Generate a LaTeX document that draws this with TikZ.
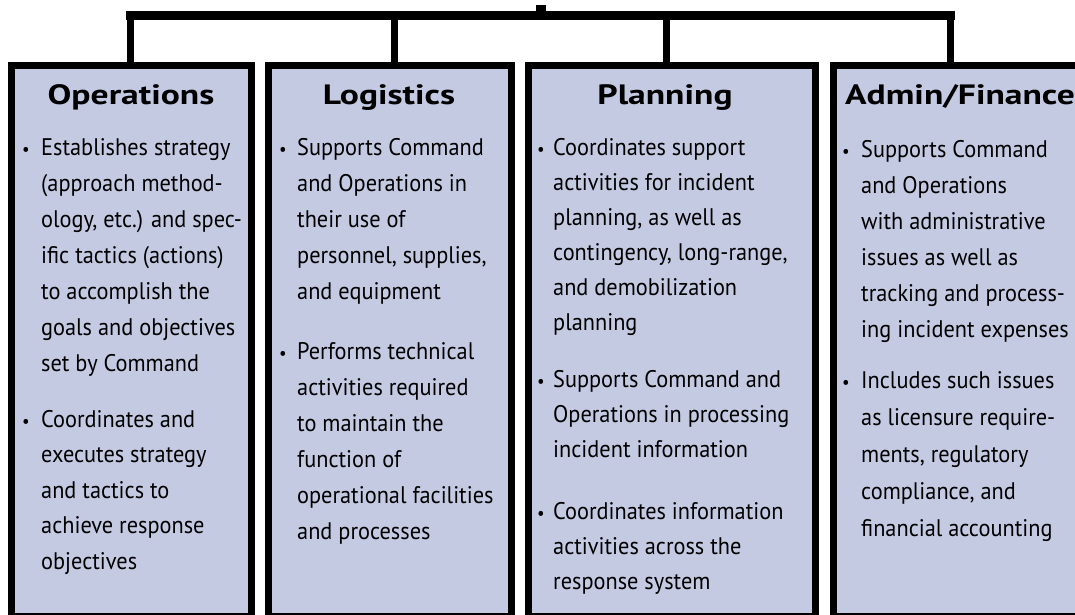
\documentclass[tikz,border=0pt]{standalone}
\usepackage{fontspec}
\newfontfamily\bodyfont[FakeStretch=0.93]{PT Sans}
\newfontfamily\titlefont[FakeStretch=1.27]{PT Sans}
\definecolor{boxfill}{RGB}{197,202,227}
\begin{document}
\begin{tikzpicture}[x=1pt,y=-1pt,
  box/.style={draw=black, line width=7pt, fill=boxfill, rectangle, inner sep=0pt, outer sep=0pt},
  bar/.style={line width=9pt, line cap=rect},
  drop/.style={line width=7.5pt},
  title/.style={font=\titlefont\bfseries\fontsize{28}{30}\selectfont, anchor=base, inner sep=0pt},
  body/.style={font=\bodyfont\fontsize{24}{36}\selectfont, anchor=base west, align=left, inner sep=0pt},
  bodyb/.style={font=\bodyfont\fontsize{24}{35.5}\selectfont, anchor=base west, align=left, inner sep=0pt},
  bodyp/.style={font=\bodyfont\fontsize{24}{35}\selectfont, anchor=base west, align=left, inner sep=0pt},
  bodya/.style={font=\bodyfont\fontsize{24}{37}\selectfont, anchor=base west, align=left, inner sep=0pt},
  bul/.style={font=\bodyfont\fontsize{18}{20}\selectfont, anchor=base, inner sep=0pt}]
\useasboundingbox (0,0) rectangle (1075,615);
\clip (0,0) rectangle (1075,615);
% boxes
\node[box, minimum width=240.5pt, minimum height=551pt] (ops) at (131.25,341) {};
\node[box, minimum width=243pt, minimum height=551pt] (log) at (390,341) {};
\node[box, minimum width=287pt, minimum height=551pt] (plan) at (672,341) {};
\node[box, minimum width=266.5pt, minimum height=551pt] (adm) at (966.75,341) {};
% connectors
\coordinate (cmd) at (541,5);
\coordinate (hub) at (541,15.5);
\coordinate (j1) at (130.5,15.5);
\coordinate (j2) at (394.5,15.5);
\coordinate (j3) at (666.5,15.5);
\coordinate (j4) at (950.5,15.5);
\draw[line width=10pt] (cmd) -- (hub);
\draw[bar] (j1) -- (j4);
\draw[drop] (j1) -- (j1 |- ops.north);
\draw[drop] (j2) -- (j2 |- log.north);
\draw[drop] (j3) -- (j3 |- plan.north);
\draw[drop] (j4) -- (j4 |- adm.north);
% titles
\node[title] (tops) at (131,105) {Operations};
\node[title] (tlog) at (389,105) {Logistics};
\node[title] (tplan) at (665,105) {Planning};
\node[title] (tadm) at (960,105) {Admin/Finance};
% Operations (anchor = baseline of last line)
\node[bul] (bo1) at (26,155) {•};
\node[body] (o1) at (41,371) {Establishes strategy\\(approach method-\\ology, etc.) and spec-\\ific tactics (actions)\\to accomplish the\\goals and objectives\\set by Command};
\node[bul] (bo2) at (26,427) {•};
\node[bodyb] (o2) at (41,569) {Coordinates and\\executes strategy\\and tactics to\\achieve response\\objectives};
% Logistics
\node[bul] (bl1) at (283,155) {•};
\node[body] (l1) at (297,299) {Supports Command\\and Operations in\\their use of\\personnel, supplies,\\and equipment};
\node[bul] (bl2) at (283,359) {•};
\node[body] (l2) at (297,539) {Performs technical\\activities required\\to maintain the\\function of\\operational facilities\\and processes};
% Planning
\node[bul] (bp1) at (541,155) {•};
\node[bodyp] (p1) at (553,330) {Coordinates support\\activities for incident\\planning, as well as\\contingency, long-range,\\and demobilization\\planning};
\node[bul] (bp2) at (541,387) {•};
\node[bodyp] (p2) at (553,457) {Supports Command and\\Operations in processing\\incident information};
\node[bul] (bp3) at (541,519) {•};
\node[bodyp] (p3) at (553,589) {Coordinates information\\activities across the\\response system};
% Admin/Finance
\node[bul] (ba1) at (846,157) {•};
\node[body] (a1) at (861,337) {Supports Command\\and Operations\\with administrative\\issues as well as\\tracking and process-\\ing incident expenses};
\node[bul] (ba2) at (846,388) {•};
\node[bodya] (a2) at (861,536) {Includes such issues\\as licensure require-\\ments, regulatory\\compliance, and\\financial accounting};
\end{tikzpicture}
\end{document}
